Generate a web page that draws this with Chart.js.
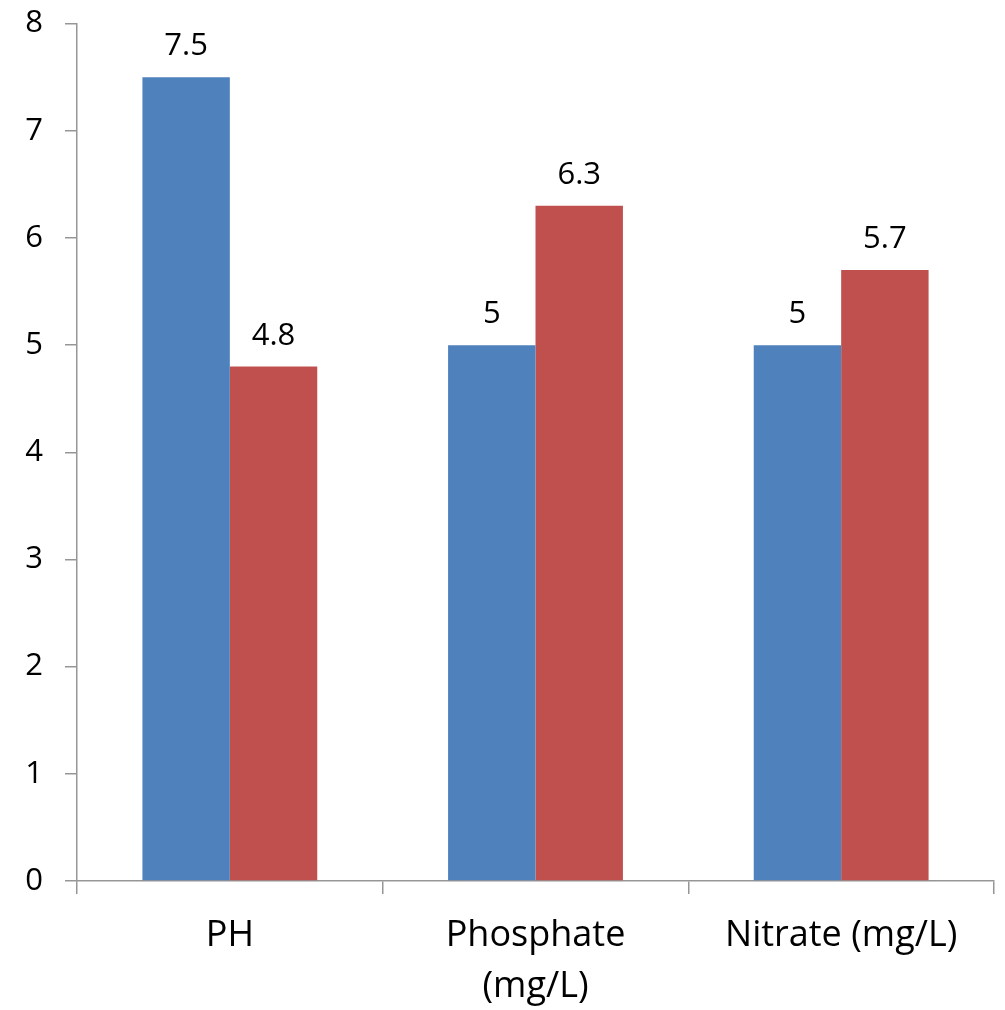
<!DOCTYPE html>
<html><head><meta charset="utf-8">
<script src="https://cdn.jsdelivr.net/npm/chart.js@4"></script>
<style>html,body{margin:0;padding:0;background:#fff;overflow:hidden;}#wrap{width:1005px;height:1010px;overflow:hidden;}#c{display:block;margin-top:-17px;}</style>
</head><body><div id="wrap"><canvas id="c" width="1005" height="1027"></canvas></div>
<script>
const categories = ['PH', ['Phosphate', '(mg/L)'], 'Nitrate (mg/L)'];
const seriesA = [7.5, 5, 5];
const seriesB = [4.8, 6.3, 5.7];
const yTicks = [0, 1, 2, 3, 4, 5, 6, 7, 8];

const FONT = "'Open Sans', 'Lato', sans-serif";
const AXIS = '#969696';

const valueLabels = {
  id: 'valueLabels',
  afterDatasetsDraw(chart) {
    const ctx = chart.ctx;
    ctx.save();
    ctx.font = '31px ' + FONT;
    ctx.fillStyle = '#000';
    ctx.textAlign = 'center';
    ctx.textBaseline = 'alphabetic';
    chart.data.datasets.forEach((ds, i) => {
      chart.getDatasetMeta(i).data.forEach((bar, j) => {
        ctx.fillText(String(ds.data[j]), bar.x, bar.y - 22);
      });
    });
    ctx.restore();
  }
};

new Chart(document.getElementById('c'), {
  type: 'bar',
  data: {
    labels: categories,
    datasets: [
      { label: 'A', data: seriesA, backgroundColor: '#4F81BD', borderWidth: 0 },
      { label: 'B', data: seriesB, backgroundColor: '#C0504D', borderWidth: 0 }
    ]
  },
  options: {
    responsive: false,
    animation: false,
    events: [],
    layout: { padding: { top: 0, right: 11, left: 0, bottom: 0 } },
    categoryPercentage: 0.572,
    barPercentage: 1,
    plugins: { legend: { display: false }, tooltip: { enabled: false } },
    scales: {
      x: {
        offset: true,
        grid: { offset: true, drawOnChartArea: false, drawTicks: true, tickLength: 13, color: AXIS, lineWidth: 1.5 },
        border: { display: true, color: AXIS, width: 1.5 },
        ticks: { font: { family: FONT, size: 36, lineHeight: 1.4 }, color: '#000', padding: 17, maxRotation: 0, autoSkip: false },
        afterFit(s) { s.height = 129; }
      },
      y: {
        min: 0, max: 8,
        afterBuildTicks(s) { s.ticks = yTicks.map(v => ({ value: v })); },
        grid: { drawOnChartArea: false, drawTicks: true, tickLength: 12, color: AXIS, lineWidth: 1.5 },
        border: { display: true, color: AXIS, width: 1.5 },
        ticks: { font: { family: FONT, size: 31 }, color: '#000', padding: 22 },
        afterFit(s) { s.width = 77; }
      }
    }
  },
  plugins: [valueLabels]
});
</script></body></html>
